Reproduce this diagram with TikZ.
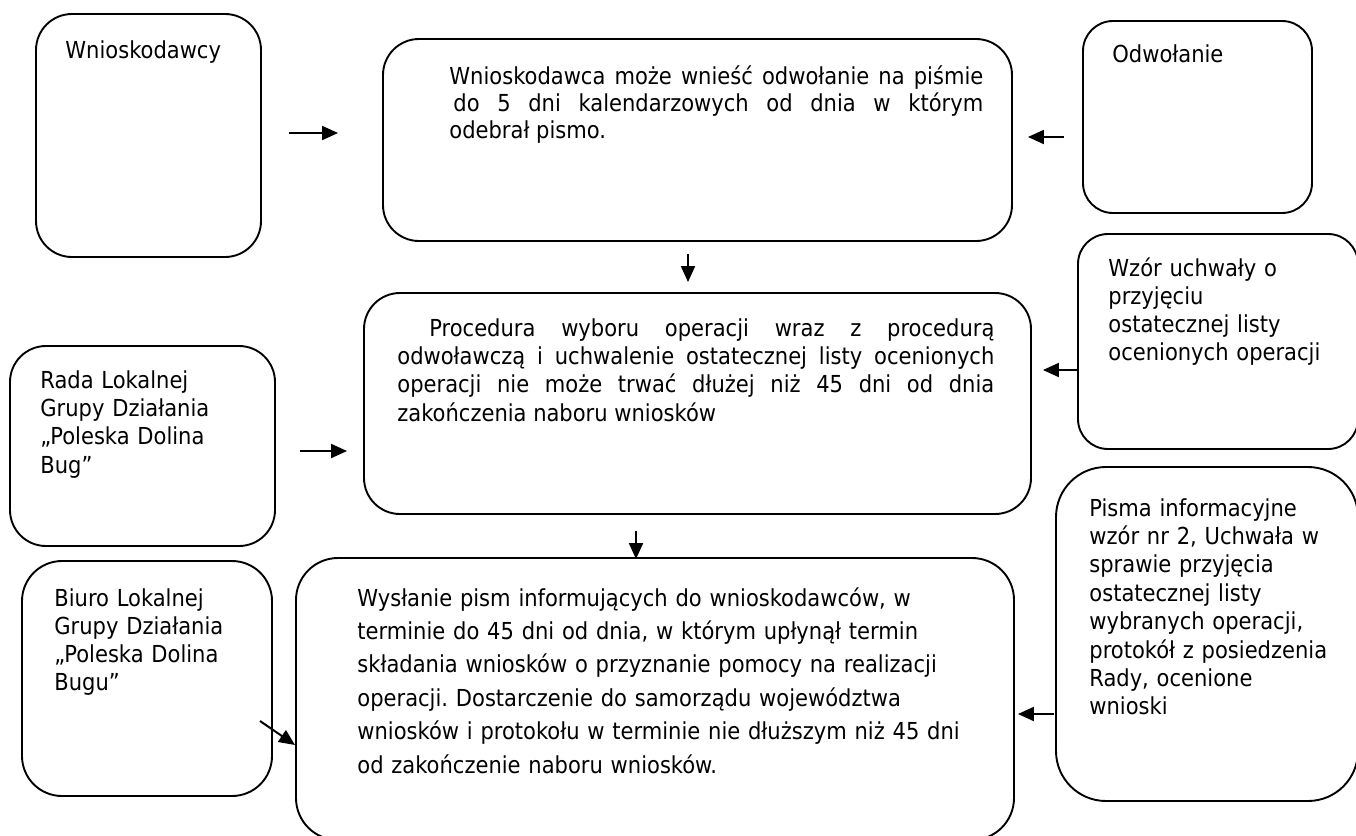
\documentclass[tikz,border=0pt]{standalone}
\usepackage{fontspec}
\setmainfont{DejaVu Sans Condensed}
\usetikzlibrary{arrows.meta,fit}
\frenchspacing

\tikzset{
	box/.style={draw,line width=0.95pt,rounded corners=18pt,inner sep=0pt},
	arr/.style={line width=1pt,-{Triangle[length=8pt,width=7pt]}},
	txt/.style={anchor=base west,inner sep=0pt,align=left},
}

\begin{document}
\begin{tikzpicture}[x=0.5pt,y=-0.5pt]
		\useasboundingbox (0,0) rectangle (1356,836);
		\clip (0,0) rectangle (1356,836);
		\node[box,fit={(36,14) (261,257)}] (wnio) {};
		\node[box,rounded corners=18pt,fit={(383,39) (1012,241)}] (top) {};
		\node[box,rounded corners=15pt,fit={(1083,21) (1312,213)}] (odw) {};
		\node[box,rounded corners=15pt,fit={(1078,234) (1358,449)}] (wzor) {};
		\node[box,fit={(364,293) (1031,514)}] (mid) {};
		\node[box,fit={(10,346) (275,546)}] (rada) {};
		\node[box,rounded corners=25pt,fit={(1056,467) (1358,801)}] (pisma) {};
		\node[box,rounded corners=20pt,fit={(22,561) (272,796)}] (biuro) {};
		\node[box,rounded corners=21pt,fit={(296,558) (1014,840)}] (bot) {};
		% texts
		\node[txt,font=\fontsize{11.7}{13.5}\selectfont] (wnioT) at (65,58) {Wnioskodawcy};
		\node[txt,text width=267pt,align=justify,font=\fontsize{11.7}{13.5}\selectfont] (topT) at (449,84)
			{Wnioskodawca może wnieść odwołanie na piśmie\linebreak
			\hspace*{2pt}do 5 dni kalendarzowych od dnia w którym\linebreak
			odebrał pismo.};
		\node[txt,font=\fontsize{11.7}{13.5}\selectfont] (odwT) at (1112,62) {Odwołanie};
		\node[txt,text width=130pt,font=\fontsize{11.7}{14}\selectfont] (wzorT) at (1108,276)
			{Wzór uchwały o\\przyjęciu\\ostatecznej listy\\ocenionych operacji};
		\node[txt,text width=298.5pt,align=justify,font=\fontsize{11.7}{14.2}\selectfont] (midT) at (397,336)
			{\hspace*{16pt}Procedura wyboru operacji wraz z procedurą\linebreak
			odwoławczą i uchwalenie ostatecznej listy ocenionych\linebreak
			operacji nie może trwać dłużej niż 45 dni od dnia\linebreak
			zakończenia naboru wniosków};
		\node[txt,text width=120pt,font=\fontsize{11.7}{14.2}\selectfont] (radaT) at (40,388)
			{Rada Lokalnej\\Grupy Działania\\„Poleska Dolina\\Bug”};
		\node[txt,text width=130pt,font=\fontsize{11.7}{14.2}\selectfont] (pismaT) at (1089,516)
			{Pisma informacyjne\\wzór nr 2, Uchwała w\\sprawie przyjęcia\\ostatecznej listy\\wybranych operacji,\\protokół z posiedzenia\\Rady, ocenione\\wnioski};
		\node[txt,text width=110pt,font=\fontsize{11.7}{14}\selectfont] (biuroT) at (54,606)
			{Biuro Lokalnej\\Grupy Działania\\„Poleska Dolina\\Bugu”};
		\node[txt,text width=320pt,font=\fontsize{11.7}{16.7}\selectfont] (botT) at (357,606)
			{Wysłanie pism informujących do wnioskodawców, w\\
			terminie do 45 dni od dnia, w którym upłynął termin\\
			składania wniosków o przyznanie pomocy na realizacji\\
			operacji. Dostarczenie do samorządu województwa\\
			wniosków i protokołu w terminie nie dłuższym niż 45 dni\\
			od zakończenie naboru wniosków.};
		% arrows
		\coordinate (biuroA) at (260,721);
		\draw[arr,shorten <=13.5pt,shorten >=22pt] (wnio.east |- 0,133) -- (top.west |- 0,133);
		\draw[arr,shorten <=9pt,shorten >=7.5pt] (odw.west |- 0,137) -- (top.east |- 0,137);
		\draw[arr,shorten <=6pt,shorten >=5pt] (top.south -| 688,0) -- (mid.north -| 688,0);
		\draw[arr,shorten >=5.5pt] (wzor.west |- 0,370) -- (mid.east |- 0,370);
		\draw[arr,shorten <=12pt,shorten >=8pt] (rada.east |- 0,451) -- (mid.west |- 0,451);
		\draw[arr,shorten <=8pt,shorten >=-1pt] (mid.south -| 636,0) -- (bot.north -| 636,0);
		\draw[arr] (biuroA) -- (bot.west |- 0,745);
		\draw[arr,shorten <=0.5pt,shorten >=1.5pt] (pisma.west |- 0,714) -- (bot.east |- 0,714);
\end{tikzpicture}
\end{document}
